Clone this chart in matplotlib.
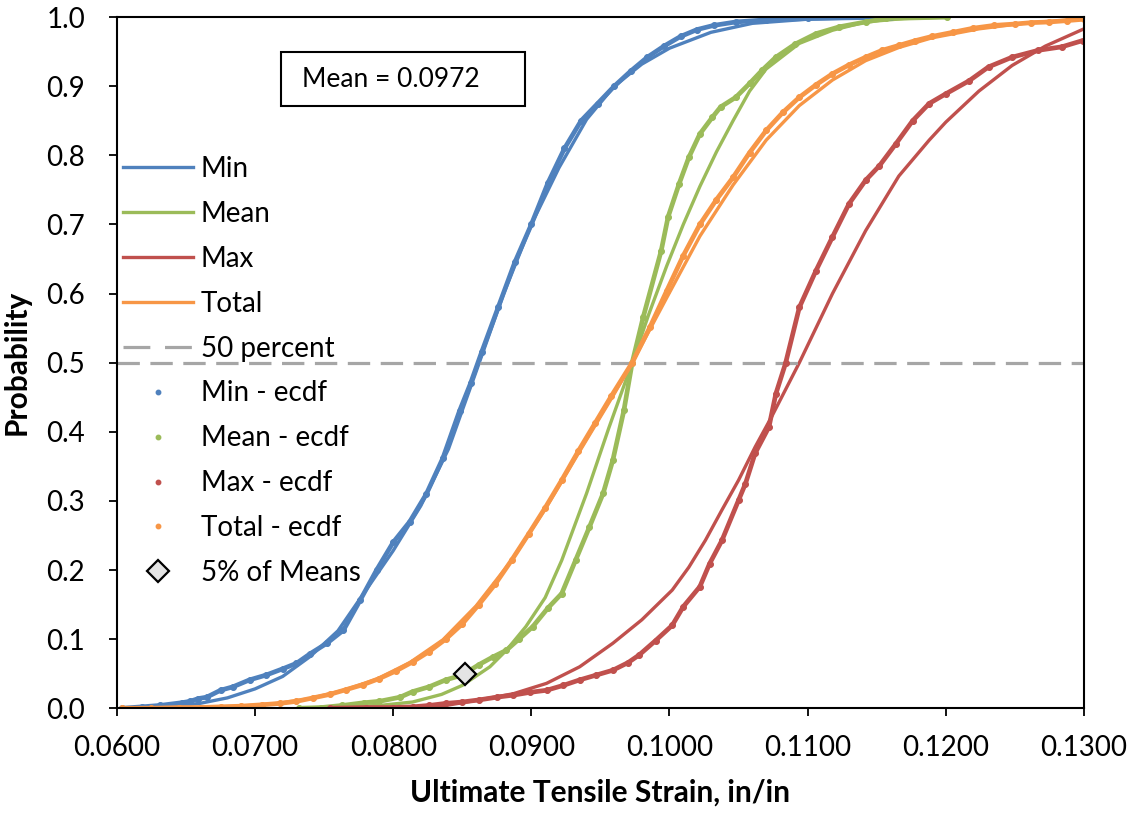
import matplotlib
matplotlib.use("Agg")
import matplotlib.pyplot as plt
from matplotlib.patches import Rectangle

plt.rcParams['font.family'] = ['Lato', 'DejaVu Sans']

# --- fitted CDFs ---
min_fit_x = [0.0604, 0.0620, 0.0640, 0.0660, 0.0680, 0.0700, 0.0720, 0.0740, 0.0760, 0.0780,
             0.0800, 0.0820, 0.0840, 0.0860, 0.0880, 0.0900, 0.0920, 0.0940, 0.0960, 0.0980,
             0.1000, 0.1030, 0.1060, 0.1100, 0.1160]
min_fit_p = [0.000, 0.001, 0.003, 0.007, 0.015, 0.028, 0.046, 0.075, 0.112, 0.170,
             0.228, 0.293, 0.375, 0.487, 0.600, 0.700, 0.782, 0.852, 0.900, 0.932,
             0.955, 0.978, 0.991, 0.997, 1.000]

mean_fit_x = [0.0732, 0.0760, 0.0790, 0.0814, 0.0835, 0.0850, 0.0870, 0.0882, 0.0896, 0.0910,
              0.0922, 0.0940, 0.0956, 0.0973, 0.0985, 0.0998, 0.1010, 0.1022, 0.1034, 0.1046,
              0.1058, 0.1070, 0.1094, 0.1118, 0.1142, 0.1170, 0.1201]
mean_fit_p = [0.000, 0.002, 0.004, 0.009, 0.020, 0.033, 0.060, 0.084, 0.118, 0.160,
              0.214, 0.311, 0.405, 0.500, 0.570, 0.640, 0.700, 0.755, 0.805, 0.850,
              0.893, 0.925, 0.962, 0.981, 0.993, 0.998, 1.000]

max_fit_x = [0.0752, 0.0800, 0.0838, 0.0862, 0.0887, 0.0911, 0.0935, 0.0959, 0.0980, 0.1002,
             0.1014, 0.1026, 0.1038, 0.1050, 0.1062, 0.1074, 0.1094, 0.1118, 0.1142, 0.1166,
             0.1188, 0.1200, 0.1224, 0.1248, 0.1272, 0.1300]
max_fit_p = [0.000, 0.001, 0.004, 0.012, 0.021, 0.036, 0.060, 0.094, 0.128, 0.171,
             0.204, 0.243, 0.287, 0.330, 0.378, 0.422, 0.500, 0.600, 0.691, 0.770,
             0.822, 0.848, 0.893, 0.930, 0.958, 0.983]

total_fit_x = [0.0604, 0.0650, 0.0690, 0.0716, 0.0740, 0.0764, 0.0788, 0.0812, 0.0836, 0.0860,
               0.0885, 0.0910, 0.0935, 0.0960, 0.0973, 0.0998, 0.1022, 0.1046, 0.1070, 0.1094,
               0.1118, 0.1142, 0.1166, 0.1190, 0.1224, 0.1260, 0.1300]
total_fit_p = [0.000, 0.001, 0.003, 0.007, 0.014, 0.026, 0.042, 0.066, 0.099, 0.148,
               0.212, 0.288, 0.372, 0.455, 0.500, 0.594, 0.683, 0.757, 0.822, 0.872,
               0.909, 0.937, 0.956, 0.970, 0.983, 0.992, 0.997]

min_ecdf_x = [0.0604, 0.0618, 0.0631, 0.0647, 0.0653, 0.0659, 0.0665, 0.0675, 0.0684, 0.0696,
              0.0708, 0.0720, 0.0730, 0.0740, 0.0752, 0.0764, 0.0776, 0.0788, 0.0800, 0.0812,
              0.0824, 0.0836, 0.0848, 0.0856, 0.0864, 0.0876, 0.0888, 0.0900, 0.0912, 0.0924,
              0.0936, 0.0948, 0.0960, 0.0972, 0.0984, 0.0996, 0.1008, 0.1020, 0.1032, 0.1048,
              0.1070, 0.1100, 0.1160]
min_ecdf_p = [0.000, 0.002, 0.004, 0.008, 0.010, 0.014, 0.016, 0.026, 0.031, 0.041,
              0.048, 0.057, 0.065, 0.079, 0.094, 0.113, 0.156, 0.200, 0.240, 0.270,
              0.310, 0.362, 0.430, 0.470, 0.515, 0.580, 0.645, 0.700, 0.760, 0.810,
              0.850, 0.875, 0.900, 0.922, 0.942, 0.958, 0.972, 0.982, 0.988, 0.993,
              0.996, 0.998, 1.000]

mean_ecdf_x = [0.0732, 0.0748, 0.0763, 0.0779, 0.0790, 0.0805, 0.0814, 0.0826, 0.0838, 0.0850,
               0.0862, 0.0872, 0.0882, 0.0891, 0.0901, 0.0912, 0.0922, 0.0932, 0.0942, 0.0952,
               0.0959, 0.0967, 0.0973, 0.0981, 0.0994, 0.0999, 0.1007, 0.1014, 0.1022, 0.1031,
               0.1037, 0.1048, 0.1058, 0.1067, 0.1077, 0.1091, 0.1106, 0.1123, 0.1142, 0.1157,
               0.1201]
mean_ecdf_p = [0.000, 0.001, 0.004, 0.008, 0.010, 0.016, 0.024, 0.031, 0.041, 0.048,
               0.063, 0.074, 0.084, 0.100, 0.118, 0.145, 0.166, 0.214, 0.262, 0.311,
               0.359, 0.431, 0.500, 0.566, 0.662, 0.711, 0.759, 0.797, 0.831, 0.855,
               0.870, 0.884, 0.904, 0.923, 0.942, 0.961, 0.976, 0.986, 0.993, 0.998,
               1.000]

max_ecdf_x = [0.0754, 0.0780, 0.0800, 0.0814, 0.0826, 0.0838, 0.0850, 0.0862, 0.0875, 0.0887,
              0.0899, 0.0911, 0.0923, 0.0935, 0.0947, 0.0959, 0.0970, 0.0978, 0.0990, 0.1002,
              0.1010, 0.1022, 0.1029, 0.1038, 0.1050, 0.1055, 0.1062, 0.1072, 0.1077, 0.1084,
              0.1094, 0.1106, 0.1118, 0.1130, 0.1142, 0.1152, 0.1164, 0.1176, 0.1188, 0.1200,
              0.1217, 0.1231, 0.1248, 0.1267, 0.1284, 0.1299]
max_ecdf_p = [0.000, 0.001, 0.001, 0.002, 0.004, 0.007, 0.009, 0.012, 0.016, 0.019,
              0.023, 0.026, 0.033, 0.041, 0.048, 0.055, 0.066, 0.077, 0.098, 0.120,
              0.147, 0.176, 0.209, 0.243, 0.301, 0.325, 0.369, 0.407, 0.455, 0.499,
              0.580, 0.633, 0.682, 0.730, 0.764, 0.785, 0.817, 0.850, 0.875, 0.889,
              0.908, 0.928, 0.942, 0.952, 0.957, 0.966]

total_ecdf_x = [0.0604, 0.0625, 0.0645, 0.0660, 0.0675, 0.0690, 0.0705, 0.0718, 0.0730, 0.0742,
                0.0754, 0.0766, 0.0778, 0.0790, 0.0802, 0.0814, 0.0826, 0.0838, 0.0850, 0.0862,
                0.0874, 0.0886, 0.0898, 0.0910, 0.0922, 0.0934, 0.0946, 0.0958, 0.0973, 0.0986,
                0.0998, 0.1010, 0.1022, 0.1034, 0.1046, 0.1058, 0.1070, 0.1082, 0.1094, 0.1106,
                0.1118, 0.1130, 0.1142, 0.1154, 0.1166, 0.1178, 0.1190, 0.1205, 0.1220, 0.1235,
                0.1250, 0.1262, 0.1275, 0.1288, 0.1300]
total_ecdf_p = [0.000, 0.000, 0.001, 0.001, 0.002, 0.003, 0.005, 0.007, 0.010, 0.015,
                0.020, 0.027, 0.034, 0.043, 0.054, 0.067, 0.082, 0.100, 0.122, 0.150,
                0.180, 0.215, 0.252, 0.290, 0.330, 0.372, 0.412, 0.452, 0.500, 0.552,
                0.604, 0.655, 0.700, 0.736, 0.768, 0.804, 0.836, 0.862, 0.884, 0.902,
                0.918, 0.931, 0.942, 0.952, 0.959, 0.966, 0.972, 0.978, 0.984, 0.988,
                0.990, 0.992, 0.993, 0.995, 0.997]

five_pct_x = [0.0852]
five_pct_p = [0.05]
mean_value = 0.0972

x_ticks = [0.06, 0.07, 0.08, 0.09, 0.10, 0.11, 0.12, 0.13]
y_ticks = [0.0, 0.1, 0.2, 0.3, 0.4, 0.5, 0.6, 0.7, 0.8, 0.9, 1.0]

blue, green, red, orange = '#4F81BD', '#9BBB59', '#C0504D', '#F79646'

fig, ax = plt.subplots(figsize=(11.35, 8.15), dpi=100)
fig.subplots_adjust(left=0.103, right=0.955, bottom=0.131, top=0.979)

# fitted curves
ax.plot(min_fit_x, min_fit_p, color=blue, lw=2.4, label='Min')
ax.plot(mean_fit_x, mean_fit_p, color=green, lw=2.4, label='Mean')
ax.plot(max_fit_x, max_fit_p, color=red, lw=2.4, label='Max')
ax.plot(total_fit_x, total_fit_p, color=orange, lw=2.4, label='Total')
ax.axhline(0.5, color='#A6A6A6', lw=2.3, ls=(0, (7, 3.3)), label='50 percent')

# ecdf points
ecdfs = [(min_ecdf_x, min_ecdf_p, blue, 'Min - ecdf'),
         (mean_ecdf_x, mean_ecdf_p, green, 'Mean - ecdf'),
         (max_ecdf_x, max_ecdf_p, red, 'Max - ecdf'),
         (total_ecdf_x, total_ecdf_p, orange, 'Total - ecdf')]
for x, p, c, name in ecdfs:
    ax.plot(x, p, ls='none', marker='o', ms=3.2, color=c, label=name)
    ax.plot(x, p, color=c, lw=3.4, solid_capstyle='round', solid_joinstyle='round',
            marker='o', ms=4, label='_nolegend_')

ax.plot(five_pct_x, five_pct_p, ls='none', marker='D', ms=11, mfc='#E4E4E4',
        mec='black', mew=1.6, label='5% of Means', zorder=5)

ax.set_xlim(0.06, 0.13)
ax.set_ylim(0.0, 1.0)
ax.set_xticks(x_ticks)
ax.set_yticks(y_ticks)
ax.set_xticklabels([f'{v:.4f}' for v in x_ticks])
ax.set_yticklabels([f'{v:.1f}' for v in y_ticks])
ax.tick_params(direction='out', length=6, width=1.3, labelsize=20, pad=13)
ax.tick_params(axis='y', pad=17)
for s in ax.spines.values():
    s.set_linewidth(1.5)

ax.set_xlabel('Ultimate Tensile Strain, in/in', fontsize=21.5, fontweight='bold', labelpad=13)
ax.set_ylabel('Probability', fontsize=21.5, fontweight='bold', labelpad=11)

# mean annotation box
ax.add_patch(Rectangle((0.170, 0.871), 0.2515, 0.079, transform=ax.transAxes,
                       fc='white', ec='black', lw=1.5, zorder=6))
ax.text(0.191, 0.910, f'Mean = {mean_value}', transform=ax.transAxes,
        fontsize=19, va='center', zorder=7)

leg = ax.legend(loc='upper left', bbox_to_anchor=(0.0065, 0.799), frameon=False,
                fontsize=20, handlelength=2.52, handletextpad=0.28, labelspacing=0.68,
                borderpad=0, borderaxespad=0)
# two long dashes in the legend sample, like the original
leg.legend_handles[4].set_linestyle((0, (8.4, 4.6)))

plt.savefig('out.png', dpi=100)
